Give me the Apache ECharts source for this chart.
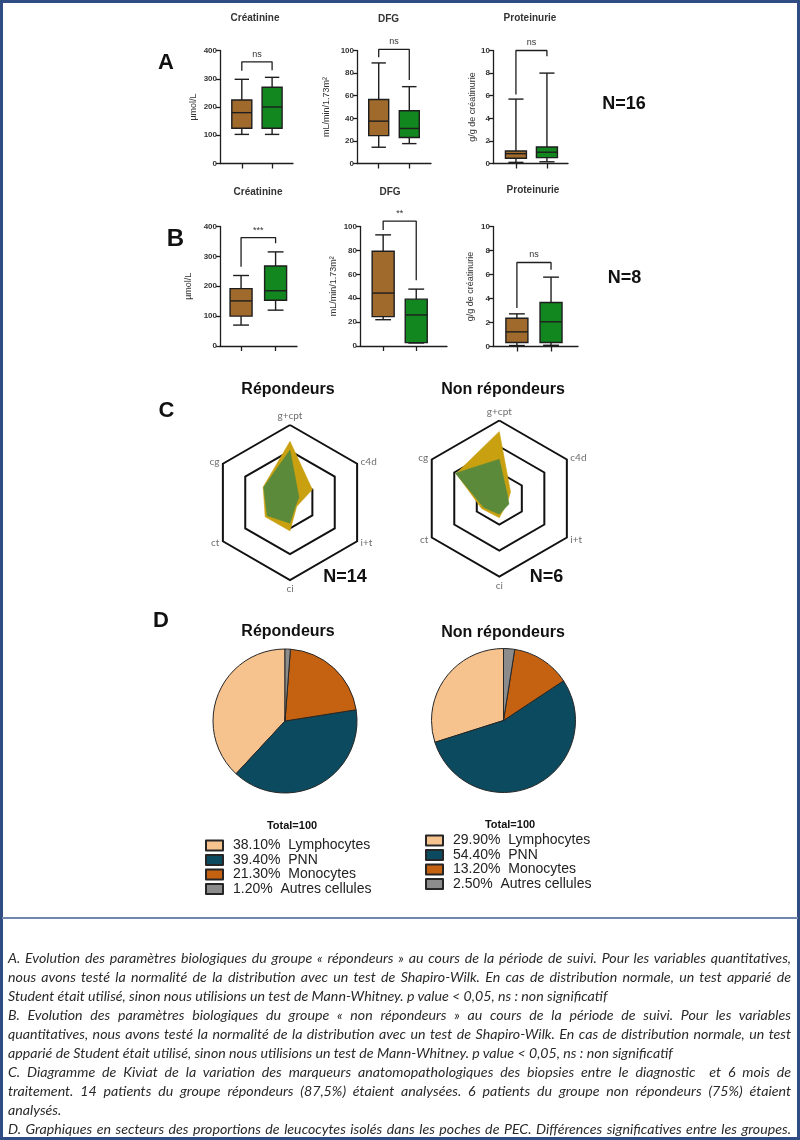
<!DOCTYPE html>
<html><head><meta charset="utf-8">
<script src="https://cdn.jsdelivr.net/npm/echarts@6/dist/echarts.min.js"></script>
<style>
html,body{margin:0;padding:0;background:#fff;}
#wrap{position:relative;width:800px;height:1140px;overflow:hidden;}
#chart{position:absolute;left:0;top:0;width:800px;height:1140px;}
#caption{position:absolute;left:8px;width:783px;top:948px;font-family:Lato,"Open Sans",sans-serif;font-style:italic;font-size:14.2px;color:#2a2a2a;line-height:19px;}
#caption div{white-space:normal;}
#caption .j{text-align:justify;text-align-last:justify;}
#caption .l{text-align:left;}
</style>
</head><body>
<div id="wrap">
<div id="chart"></div>
<div id="caption">
<div class="j">A. Evolution des paramètres biologiques du groupe « répondeurs » au cours de la période de suivi. Pour les variables quantitatives,</div>
<div class="j">nous avons testé la normalité de la distribution avec un test de Shapiro-Wilk. En cas de distribution normale, un test apparié de</div>
<div class="l">Student était utilisé, sinon nous utilisions un test de Mann-Whitney. p value &lt; 0,05, ns : non significatif</div>
<div class="j">B. Evolution des paramètres biologiques du groupe « non répondeurs » au cours de la période de suivi. Pour les variables</div>
<div class="j">quantitatives, nous avons testé la normalité de la distribution avec un test de Shapiro-Wilk. En cas de distribution normale, un test</div>
<div class="l">apparié de Student était utilisé, sinon nous utilisions un test de Mann-Whitney. p value &lt; 0,05, ns : non significatif</div>
<div class="j">C. Diagramme de Kiviat de la variation des marqueurs anatomopathologiques des biopsies entre le diagnostic&nbsp; et 6 mois de</div>
<div class="j">traitement. 14 patients du groupe répondeurs (87,5%) étaient analysées. 6 patients du groupe non répondeurs (75%) étaient</div>
<div class="l">analysés.</div>
<div class="j">D. Graphiques en secteurs des proportions de leucocytes isolés dans les poches de PEC. Différences significatives entre les groupes.</div>
</div>
</div>
<script>
// ---------- DATA ----------
// Box plots: [min, Q1, median, Q3, max] for the two time points (brown, green)
const creatA = [[103, 125, 180, 225, 298], [103, 125, 200, 270, 305]];
const dfgA   = [[14.4, 24.7, 37.5, 56.7, 89], [17.6, 23, 31, 46.7, 68]];
const protA  = [[0.1, 0.46, 0.87, 1.1, 5.7], [0.15, 0.52, 1.0, 1.46, 8.0]];
const creatB = [[70, 100, 151, 192, 236], [120, 153, 185, 268, 315]];
const dfgB   = [[22, 24.6, 44.3, 79.3, 93], [2.5, 2.8, 26, 39.2, 47.6]];
const protB  = [[0.08, 0.33, 1.22, 2.36, 2.72], [0.1, 0.33, 2.06, 3.67, 5.78]];
// Significance brackets: [top, left leg end, right leg end]
const bracketA = [[360, 328, 330], [101, 94, 74], [10, 6.1, 9.5]];
const bracketB = [[363, 265, 344], [104.5, 97, 55], [7, 3.2, 6.4]];
const sigA = ['ns', 'ns', 'ns'];
const sigB = ['***', '**', 'ns'];
const boxTitles = ['Créatinine', 'DFG', 'Proteinurie'];
const boxUnits = ['µmol/L', 'mL/min/1.73m²', 'g/g de créatinurie'];
const nA = 'N=16', nB = 'N=8';

// Radar (Kiviat): axes counter-clockwise from top
const radarAxes = ['g+cpt', 'cg', 'ct', 'ci', 'i+t', 'c4d'];
const radarMax = 3;
const repDiag  = [2.37, 1.2, 1.11, 1.1, 0.3, 1.0];
const rep6m    = [2.03, 1.18, 1.02, 0.8, 0.25, 0.4];
const nonDiag  = [2.58, 1.92, 0.78, 0.74, 0.35, 0.5];
const non6m    = [1.51, 1.95, 0.69, 0.61, 0.43, 0.35];
const nRep = 'N=14', nNon = 'N=6';

// Pies
const cellTypes = ['Lymphocytes', 'PNN', 'Monocytes', 'Autres cellules'];
const repPct = [38.1, 39.4, 21.3, 1.2];
const nonPct = [29.9, 54.4, 13.2, 2.5];
const groupTitles = ['Répondeurs', 'Non répondeurs'];

// ---------- STYLE ----------
const boxColors = ['#A06A2D', '#12861F'];
const cellColors = ['#F6C38F', '#0C4B5F', '#C56212', '#8C8C8C'];
const radarColors = ['#C9A010', '#5A8A3A'];
const ink = '#1e1e1e';
const AR = '"Liberation Sans", Arial, sans-serif';

const panels = [
  {grid:{left:220, top:50.5, width:73, height:113}, xr:[-0.72,1.69], max:400, iv:100, gap:22, data:creatA, br:bracketA[0], sig:sigA[0], bw:20, unit:boxUnits[0]},
  {grid:{left:357, top:50.5, width:74, height:113}, xr:[-0.71,1.71], max:100, iv:20, gap:26, data:dfgA, br:bracketA[1], sig:sigA[1], bw:20, unit:boxUnits[1]},
  {grid:{left:493, top:50.5, width:75, height:113}, xr:[-0.74,1.68], max:10, iv:2, gap:15, data:protA, br:bracketA[2], sig:sigA[2], bw:21, unit:boxUnits[2]},
  {grid:{left:220, top:226.5, width:77, height:119.5}, xr:[-0.61,1.62], max:400, iv:100, gap:27, data:creatB, br:bracketB[0], sig:sigB[0], bw:22, unit:boxUnits[0]},
  {grid:{left:360, top:226.5, width:87, height:119.5}, xr:[-0.70,1.93], max:100, iv:20, gap:22, data:dfgB, br:bracketB[1], sig:sigB[1], bw:22, unit:boxUnits[1]},
  {grid:{left:493, top:226.5, width:85, height:120}, xr:[-0.70,1.79], max:10, iv:2, gap:18, data:protB, br:bracketB[2], sig:sigB[2], bw:22, unit:boxUnits[2]}
];

function boxRenderer(bw){
  return function(params, api){
    const x = api.value(0);
    const p = [1,2,3,4,5].map(d => api.coord([x, api.value(d)]));
    const cx = p[0][0], half = bw/2, cap = bw*0.36;
    const ls = {stroke: ink, lineWidth: 1.4};
    return {type:'group', children:[
      {type:'line', shape:{x1:cx, y1:p[4][1], x2:cx, y2:p[3][1]}, style:ls},
      {type:'line', shape:{x1:cx, y1:p[1][1], x2:cx, y2:p[0][1]}, style:ls},
      {type:'line', shape:{x1:cx-cap, y1:p[4][1], x2:cx+cap, y2:p[4][1]}, style:ls},
      {type:'line', shape:{x1:cx-cap, y1:p[0][1], x2:cx+cap, y2:p[0][1]}, style:ls},
      {type:'rect', shape:{x:cx-half, y:p[3][1], width:bw, height:p[1][1]-p[3][1]}, style:{fill:boxColors[params.dataIndex], stroke:ink, lineWidth:1.4}},
      {type:'line', shape:{x1:cx-half, y1:p[2][1], x2:cx+half, y2:p[2][1]}, style:ls}
    ]};
  };
}
function sigRenderer(text){
  return function(params, api){
    const pt = api.coord([api.value(0), api.value(1)]);
    return {type:'text', x:pt[0], y:pt[1]-3, style:{text:text, align:'center', verticalAlign:'bottom', fontSize:9, fontFamily:AR, fill:'#333'}};
  };
}

const grids = [], xAxes = [], yAxes = [], series = [];
const axisLs = {color: ink, width: 1.3};
panels.forEach((pn, i) => {
  grids.push(pn.grid);
  xAxes.push({type:'value', gridIndex:i, min:pn.xr[0], max:pn.xr[1],
    axisLine:{show:true, onZero:false, lineStyle:axisLs},
    axisTick:{show:true, customValues:[0,1], length:5, lineStyle:axisLs},
    axisLabel:{show:false}, splitLine:{show:false}});
  yAxes.push({type:'value', gridIndex:i, min:0, max:pn.max, interval:pn.iv,
    axisLine:{show:true, onZero:false, lineStyle:axisLs},
    axisTick:{show:true, length:4, lineStyle:axisLs},
    axisLabel:{fontSize:8, fontWeight:'bold', color:'#333', margin:3, fontFamily:AR},
    splitLine:{show:false},
    name:pn.unit, nameLocation:'middle', nameRotate:90, nameGap:pn.gap,
    nameTextStyle:{fontSize:9, color:'#333', fontFamily:AR}});
  series.push({type:'custom', xAxisIndex:i, yAxisIndex:i, clip:false, z:3,
    renderItem: boxRenderer(pn.bw), encode:{x:0, y:[1,2,3,4,5]},
    data: pn.data.map((v,k) => [k].concat(v))});
  series.push({type:'line', xAxisIndex:i, yAxisIndex:i, clip:false, symbol:'none', silent:true, z:2,
    lineStyle:{color:ink, width:1.3},
    data:[[0, pn.br[1]], [0, pn.br[0]], [1, pn.br[0]], [1, pn.br[2]]]});
  series.push({type:'custom', xAxisIndex:i, yAxisIndex:i, clip:false, z:4,
    renderItem: sigRenderer(pn.sig), encode:{x:0, y:1},
    data:[[0.5, pn.br[0]]]});
});

// Radars
const radarBase = {shape:'polygon', splitNumber:3, startAngle:90, nameGap:4,
  axisName:{color:'#6e6e6e', fontSize:10, fontFamily:'Lato, sans-serif'},
  splitLine:{lineStyle:{color:'#111', width:2}}, splitArea:{show:false},
  axisLine:{show:false}, axisTick:{show:false}, axisLabel:{show:false},
  indicator: radarAxes.map(n => ({name:n, max:radarMax}))};
const radars = [
  Object.assign({}, radarBase, {center:[290, 502.5], radius:77.5}),
  Object.assign({}, radarBase, {center:[499.3, 498.5], radius:78})
];
[[repDiag, rep6m], [nonDiag, non6m]].forEach((pair, ri) => {
  series.push({type:'radar', radarIndex:ri, symbol:'none', silent:true,
    data: pair.map((vals, k) => ({value:vals, name:k===0?'Diagnostic':'6 mois',
      lineStyle:{width:0.5, color:radarColors[k]}, itemStyle:{color:radarColors[k]},
      areaStyle:{color:radarColors[k], opacity:1}}))});
});

// Pies
const pieLabel = (pct, k) => pct[k].toFixed(2) + '%  ' + cellTypes[k];
const pieCenters = [[285, 721], [503.5, 720.5]];
[repPct, nonPct].forEach((pct, pi) => {
  series.push({type:'pie', center:pieCenters[pi], radius:72, startAngle:90, clockwise:false,
    label:{show:false}, labelLine:{show:false}, silent:true,
    itemStyle:{borderColor:'#262626', borderWidth:1},
    data: pct.map((v, k) => ({name: pieLabel(pct, k), value: v, itemStyle:{color: cellColors[k]}}))});
});
const legendBase = {orient:'vertical', itemWidth:17, itemHeight:10, itemGap:0.5, padding:0, selectedMode:false,
  icon:'rect', textStyle:{fontSize:14, fontFamily:AR, color:'#222', lineHeight:13, padding:[0,0,0,5]}};
const legends = [
  Object.assign({}, legendBase, {left:205, top:838.5, data: repPct.map((v,k) => pieLabel(repPct,k))}),
  Object.assign({}, legendBase, {left:425, top:833.5, data: nonPct.map((v,k) => pieLabel(nonPct,k))})
];

// Free texts
function txt(x, y, text, size, weight, extra){
  return Object.assign({type:'text', x:x, y:y, silent:true, style:Object.assign({text:text, fontSize:size, fontWeight:weight||'normal',
    fontFamily:AR, fill:'#111', align:'center', verticalAlign:'middle'}, extra||{})});
}
const graphics = [
  {type:'rect', silent:true, shape:{x:1.5, y:1.5, width:797, height:1137}, style:{fill:'none', stroke:'#2f4d82', lineWidth:3}},
  {type:'line', silent:true, shape:{x1:2, y1:918, x2:798, y2:918}, style:{stroke:'#6f86ad', lineWidth:2}},
  txt(166, 62.5, 'A', 22, 'bold'), txt(175.5, 239, 'B', 24, 'bold'), txt(166.5, 411, 'C', 22, 'bold'), txt(161, 621, 'D', 22, 'bold'),
  txt(255, 18.5, boxTitles[0], 10, 'bold', {fill:'#333'}), txt(388.5, 19, boxTitles[1], 10, 'bold', {fill:'#333'}), txt(530, 18.5, boxTitles[2], 10, 'bold', {fill:'#333'}),
  txt(258, 192, boxTitles[0], 10, 'bold', {fill:'#333'}), txt(390, 192, boxTitles[1], 10, 'bold', {fill:'#333'}), txt(533, 190, boxTitles[2], 10, 'bold', {fill:'#333'}),
  txt(624, 104, nA, 18, 'bold'), txt(624.5, 278.5, nB, 18, 'bold'),
  txt(288, 390, groupTitles[0], 16, 'bold'), txt(503, 390, groupTitles[1], 16, 'bold'),
  txt(345, 577, nRep, 18, 'bold'), txt(546.5, 577, nNon, 18, 'bold'),
  txt(288, 631.5, groupTitles[0], 16, 'bold'), txt(503, 633, groupTitles[1], 16, 'bold'),
  txt(292, 825.5, 'Total=100', 11, 'bold'), txt(510, 825, 'Total=100', 11, 'bold')
];

const chart = echarts.init(document.getElementById('chart'));
chart.setOption({
  animation:false,
  backgroundColor:'#ffffff',
  grid:grids, xAxis:xAxes, yAxis:yAxes, radar:radars, legend:legends,
  series:series, graphic:graphics
});
</script>
</body></html>
